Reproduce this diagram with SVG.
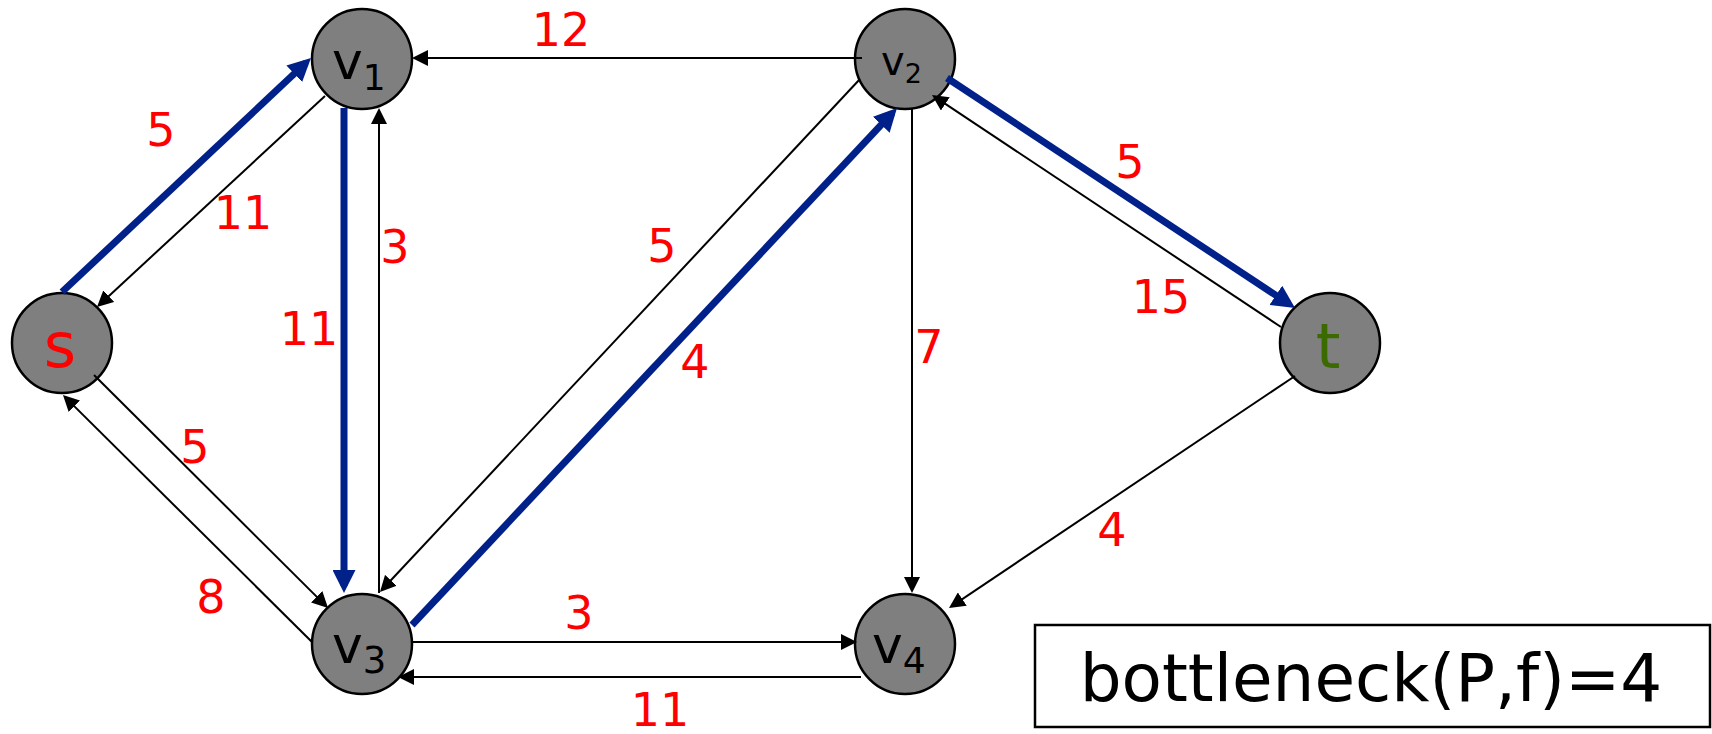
<svg xmlns="http://www.w3.org/2000/svg" width="1712" height="734" viewBox="0 0 1712 734">
<style>
.node{fill:#7f7f7f;stroke:#000;stroke-width:2.5}
.lbl{font-family:"DejaVu Sans","Liberation Sans",sans-serif;fill:#000}
.w{font-family:"DejaVu Sans","Liberation Sans",sans-serif;font-size:46px;fill:#ff0000;text-anchor:middle}
.k{stroke:#000;stroke-width:2;fill:none;marker-end:url(#ak)}
.b{stroke:#00208a;stroke-width:7;fill:none;marker-end:url(#ab)}
</style>
<defs>
<marker id="ak" markerUnits="userSpaceOnUse" viewBox="0 0 16 16" markerWidth="16" markerHeight="16" refX="13" refY="8" orient="auto"><path d="M0,0 L16,8 L0,16 z" fill="#000"/></marker>
<marker id="ab" markerUnits="userSpaceOnUse" viewBox="0 0 23 23" markerWidth="23" markerHeight="23" refX="16" refY="11.5" orient="auto"><path d="M0,0 L23,11.5 L0,23 z" fill="#00208a"/></marker>
</defs>
<rect width="1712" height="734" fill="#fff"/>
<g id="s"><circle class="node" cx="62" cy="343" r="50"/><text class="lbl" x="60" y="367" font-size="62" style="fill:#ff0000" text-anchor="middle">s</text></g>
<g id="v1"><circle class="node" cx="362" cy="59" r="50"/><text class="lbl" x="332" y="79" font-size="52">v<tspan font-size="36" dy="11">1</tspan></text></g>
<g id="v2"><circle class="node" cx="905" cy="59" r="50"/><text class="lbl" x="881" y="75" font-size="40">v<tspan font-size="27" dy="8">2</tspan></text></g>
<g id="t"><circle class="node" cx="1330" cy="343" r="50"/><text class="lbl" x="1328" y="368" font-size="63" style="fill:#3b6b00" text-anchor="middle">t</text></g>
<g id="v3"><circle class="node" cx="362" cy="644" r="50"/><text class="lbl" x="332" y="663" font-size="52">v<tspan font-size="37" dy="10">3</tspan></text></g>
<g id="v4"><circle class="node" cx="905" cy="644" r="50"/><text class="lbl" x="872" y="663" font-size="52">v<tspan font-size="36" dy="10">4</tspan></text></g>
<g id="connectors">
<line class="b" x1="62" y1="292" x2="305.9" y2="62.8"/>
<line class="b" x1="344" y1="108" x2="344" y2="586"/>
<line class="b" x1="412" y1="625" x2="892.2" y2="113.1"/>
<line class="b" x1="947" y1="78" x2="1289.2" y2="304.1"/>
<line class="k" x1="325" y1="96" x2="99.2" y2="305"/>
<line class="k" x1="379" y1="593" x2="379" y2="111"/>
<line class="k" x1="862" y1="58" x2="415" y2="58"/>
<line class="k" x1="94" y1="375" x2="325.9" y2="605.9"/>
<line class="k" x1="312" y1="642" x2="65.1" y2="397.1"/>
<line class="k" x1="860" y1="79" x2="382" y2="589.8"/>
<line class="k" x1="1281" y1="327" x2="934.5" y2="96.7"/>
<line class="k" x1="912" y1="108" x2="912" y2="590"/>
<line class="k" x1="1295" y1="376" x2="951.5" y2="606.3"/>
<line class="k" x1="412" y1="642" x2="854" y2="642"/>
<line class="k" x1="861" y1="677" x2="401" y2="677"/>
</g>
<g id="edge-labels">
<text class="w" x="161" y="146">5</text>
<text class="w" x="243" y="229">11</text>
<text class="w" x="395" y="263">3</text>
<text class="w" x="309" y="345">11</text>
<text class="w" x="561" y="46">12</text>
<text class="w" x="662" y="262">5</text>
<text class="w" x="1130" y="178">5</text>
<text class="w" x="1161" y="313">15</text>
<text class="w" x="929" y="363">7</text>
<text class="w" x="195" y="463">5</text>
<text class="w" x="211" y="613">8</text>
<text class="w" x="695" y="378">4</text>
<text class="w" x="579" y="629">3</text>
<text class="w" x="660" y="726">11</text>
<text class="w" x="1112" y="546">4</text>
</g>
<g id="bottleneck">
<rect x="1035" y="625" width="675" height="102" fill="#fff" stroke="#000" stroke-width="2.5"/>
<text class="lbl" x="1371" y="701" font-size="66" text-anchor="middle">bottleneck(P,f)=4</text>
</g>
</svg>
